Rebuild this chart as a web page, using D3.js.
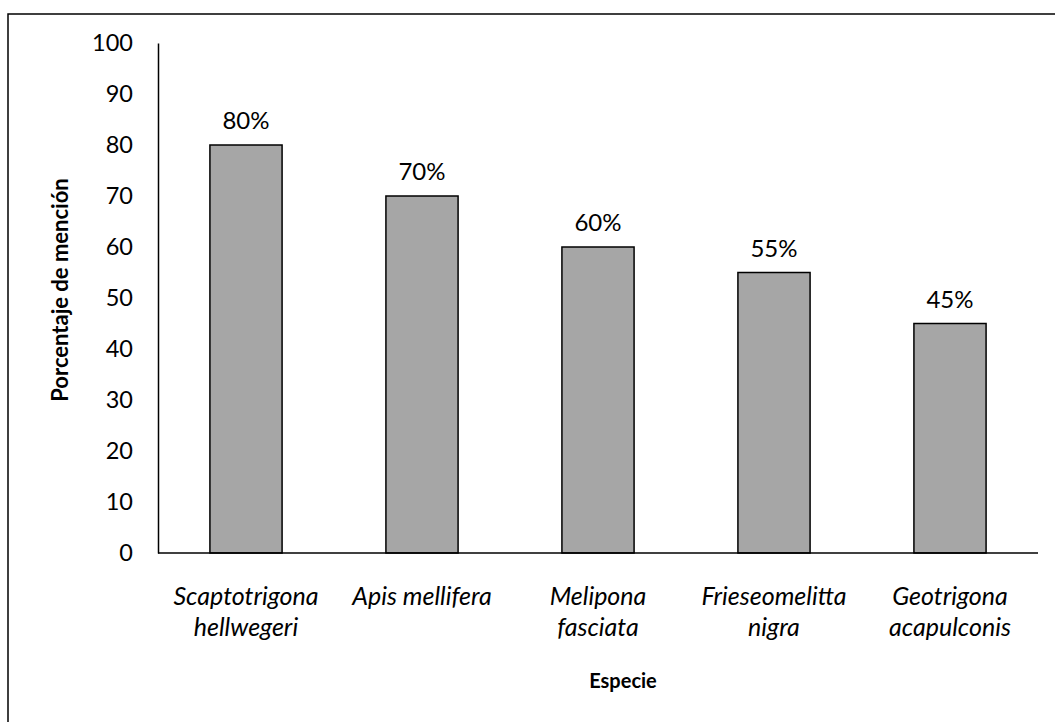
<!DOCTYPE html>
<html>
<head>
<meta charset="utf-8">
<script src="https://cdn.jsdelivr.net/npm/d3@7"></script>
<style>
  body { margin: 0; background: #fff; }
  text { font-family: Lato, "Open Sans", sans-serif; fill: #000; }
</style>
</head>
<body>
<svg id="chart" width="1055" height="722"></svg>
<script>
// Chart data
const species = [
    ["Scaptotrigona", "hellwegeri"],
    ["Apis mellifera"],
    ["Melipona", "fasciata"],
    ["Frieseomelitta", "nigra"],
    ["Geotrigona", "acapulconis"]
];
const percentages = [80, 70, 60, 55, 45];
const yTicks = [0, 10, 20, 30, 40, 50, 60, 70, 80, 90, 100];

// Layout
const margin = { left: 158, right: 1038, top: 43, bottom: 553 };

const svg = d3.select('#chart');

// outer frame (runs off the right and bottom edges)
svg.append('rect')
    .attr('x', 8).attr('y', 14)
    .attr('width', 1100).attr('height', 800)
    .attr('fill', 'none')
    .attr('stroke', '#000')
    .attr('stroke-width', 1.5);

const x = d3.scaleBand()
    .domain(d3.range(species.length))
    .range([margin.left, margin.right])
    .paddingInner(0.59)
    .paddingOuter(0.295);

const y = d3.scaleLinear()
    .domain([0, 100])
    .range([margin.bottom, margin.top]);

// y axis: line and labels, no tick marks
const yAxis = svg.append('g')
    .attr('transform', 'translate(' + margin.left + ',0)')
    .call(d3.axisLeft(y).tickValues(yTicks).tickSize(0).tickPadding(25));
yAxis.select('.domain').attr('stroke', '#000').attr('stroke-width', 1.5);
yAxis.selectAll('text')
    .style('font-family', 'Lato, sans-serif')
    .style('font-size', '23.5px')
    .attr('fill', '#000');

// bars
svg.append('g').selectAll('rect')
    .data(percentages)
    .enter().append('rect')
    .attr('x', (d, i) => x(i))
    .attr('y', d => y(d))
    .attr('width', x.bandwidth())
    .attr('height', d => y(0) - y(d))
    .attr('fill', '#a6a6a6')
    .attr('stroke', '#000')
    .attr('stroke-width', 1.5);

// x axis line
svg.append('line')
    .attr('x1', margin.left).attr('x2', margin.right)
    .attr('y1', y(0)).attr('y2', y(0))
    .attr('stroke', '#000')
    .attr('stroke-width', 1.5);

// value labels
svg.append('g').selectAll('text')
    .data(percentages)
    .enter().append('text')
    .attr('x', (d, i) => x(i) + x.bandwidth() / 2)
    .attr('y', d => y(d) - 16)
    .attr('text-anchor', 'middle')
    .style('font-size', '24px')
    .text(d => d + '%');

// category labels (two lines, italic)
const cat = svg.append('g').selectAll('text')
    .data(species)
    .enter().append('text')
    .attr('text-anchor', 'middle')
    .style('font-size', '25px')
    .style('font-style', 'italic');
cat.each(function (lines, i) {
    const t = d3.select(this);
    lines.forEach((s, j) => {
        t.append('tspan')
            .attr('x', x(i) + x.bandwidth() / 2)
            .attr('y', 605 + j * 31)
            .text(s);
    });
});

// axis titles
svg.append('text')
    .attr('x', 623).attr('y', 688)
    .attr('text-anchor', 'middle')
    .style('font-size', '20px')
    .style('font-weight', 'bold')
    .text('Especie');

svg.append('text')
    .attr('transform', 'translate(68,290) rotate(-90)')
    .attr('text-anchor', 'middle')
    .style('font-size', '22px')
    .style('font-weight', 'bold')
    .text('Porcentaje de mención');
</script>
</body>
</html>
